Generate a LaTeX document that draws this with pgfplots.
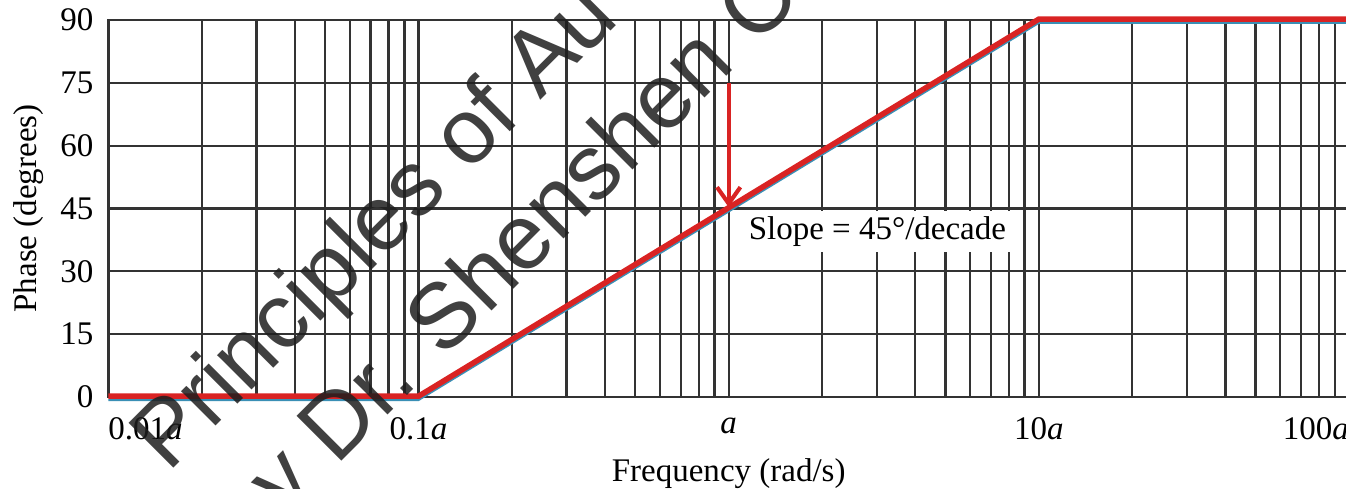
\documentclass[border=0pt]{standalone}
\usepackage{fontspec}
\setmainfont{Liberation Serif}
\newfontfamily\wmfont{Liberation Sans}
\usepackage{pgfplots}
\pgfplotsset{compat=1.18}
\usetikzlibrary{arrows.meta}
\definecolor{gridc}{HTML}{333333}
\definecolor{redc}{HTML}{D92323}
\definecolor{shadowc}{HTML}{3A8FB5}
\definecolor{wmc}{HTML}{1E1E1E}
\begin{document}
\begin{tikzpicture}[font=\fontsize{12}{14.4}\selectfont]
\begin{axis}[
  xmode=log, log basis x=10,
  scale only axis, width=451pt, height=137.1pt,
  xmin=0.01, xmax=100, ymin=0, ymax=90,
  ytick={0,15,30,45,60,75,90},
  xtick={0.01,0.1,1,10,100},
  minor xtick={0.02,0.03,0.04,0.05,0.06,0.07,0.08,0.09,
               0.2,0.3,0.4,0.5,0.6,0.7,0.8,0.9,
               2,3,4,5,6,7,8,9,
               20,30,40,50,60,70,80,90},
  xticklabels={\rlap{0.01\textit{a}}, 0.1\textit{a}, \textit{a}, 10\textit{a}, \llap{100\textit{a}}},
  /pgf/number format/assume math mode=true,
  xmajorgrids=true, xminorgrids=true, ymajorgrids=true,
  major grid style={draw=gridc, line width=0.8pt},
  minor grid style={draw=gridc, line width=0.8pt},
  axis line style={draw=gridc, line width=0.8pt},
  major tick length=0pt, minor tick length=0pt,
  xticklabel style={yshift=-4pt},
  yticklabel style={xshift=-2pt},
  xlabel={Frequency (rad/s)}, ylabel={Phase (degrees)},
  ylabel style={yshift=-0.8pt},
  clip=false,
]
\addplot[draw=shadowc, line width=0.7pt, yshift=-1.1pt, forget plot] coordinates {(0.01,0) (0.1,0) (10,90) (100,90)};
\addplot[draw=redc, line width=2pt, yshift=0.3pt] coordinates {(0.01,0) (0.1,0) (10,90) (100,90)};
\addplot[draw=redc, line width=1.5pt, -{Straight Barb[length=6pt,width=8.5pt]}] coordinates {(1,75) (1,45.3)};
\node[anchor=west, fill=white, inner sep=2pt] at (axis cs:1.11,39.4) {Slope = 45°/decade};
\end{axis}
\node[rotate=45, anchor=base west, inner sep=0pt, text=wmc, text opacity=0.85, font=\wmfont\fontsize{33.5}{40}\selectfont] at (21.5pt,-28.0pt) {Principles of Au};
\node[rotate=45, anchor=base west, inner sep=0pt, text=wmc, text opacity=0.85, font=\wmfont\fontsize{33.5}{40}\selectfont] at (51.1pt,-57.1pt) {by Dr. Shenshen C};
\pgfresetboundingbox
\path[use as bounding box] (-39.45pt,-33.09pt) rectangle (449.95pt,144.35pt);
\end{tikzpicture}
\end{document}
